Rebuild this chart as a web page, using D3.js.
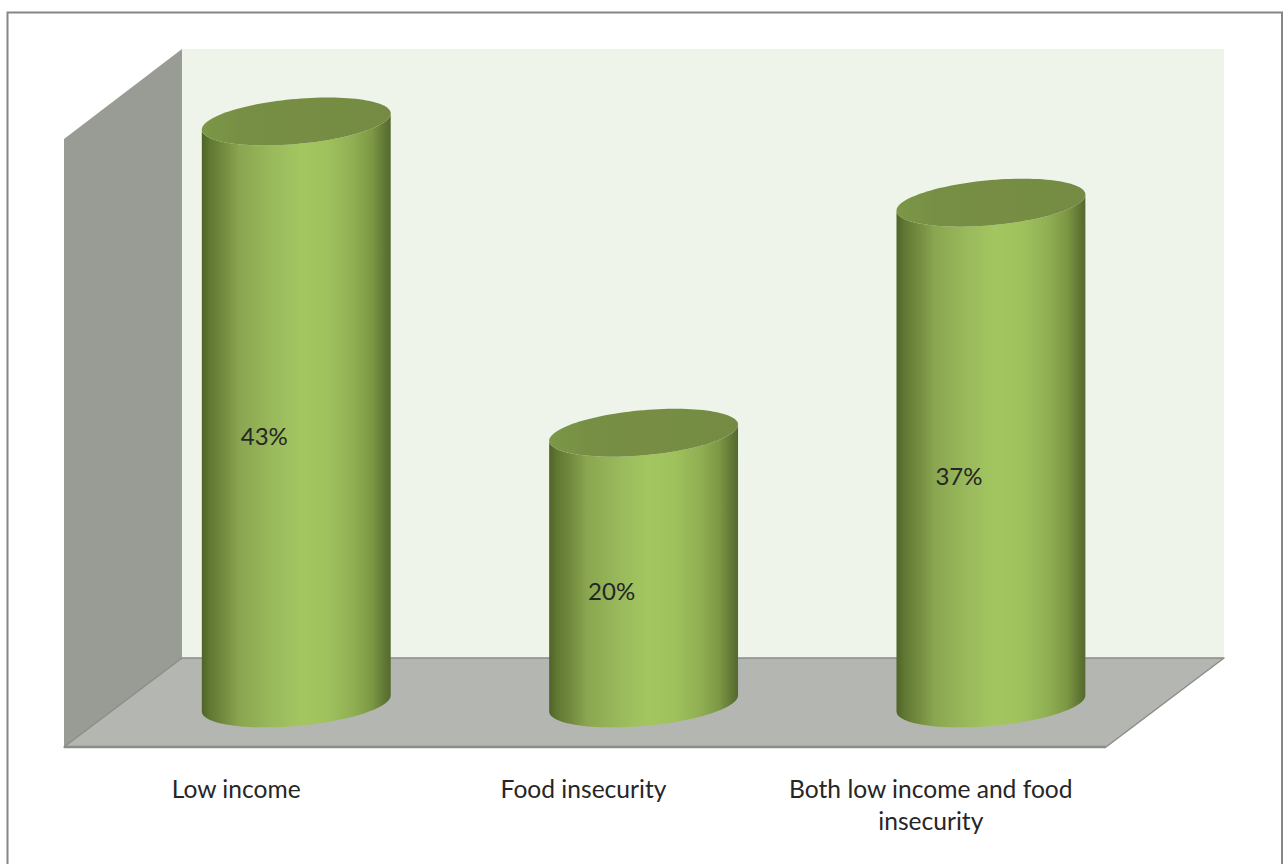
<!DOCTYPE html>
<html>
<head>
<meta charset="utf-8">
<script src="https://cdn.jsdelivr.net/npm/d3@7"></script>
<style>
  html, body { margin: 0; padding: 0; background: #fff; }
  svg { display: block; }
  text { font-family: Lato, "Open Sans", sans-serif; fill: #262626; }
</style>
</head>
<body>
<svg id="chart" width="1288" height="864"></svg>
<script>
const categories = ["Low income", "Food insecurity", "Both low income and food insecurity"];
const shares = [43, 20, 37];
const axisMax = 45;

const svg = d3.select("#chart");

// Box of the 3D plot: front and back edges of the floor, and the wall height
const front = { left: 64, right: 1106, floor: 747 };
const back = { left: 182, right: 1224, floor: 658, top: 49 };
const wallTopFront = 139;

// Cylinders stand halfway between the front and back edges
const midLeft = (front.left + back.left) / 2 - 0.4;
const midRight = (front.right + back.right) / 2 - 0.4;
const midFloor = 703.4;
const y = d3.scaleLinear().domain([0, axisMax]).range([midFloor, midFloor - (back.floor - back.top)]);
const xMid = d3.scaleBand().domain(categories).range([midLeft, midRight]).paddingInner(0.459).paddingOuter(0.2295);
const xFront = d3.scaleBand().domain(categories).range([front.left, front.right]);

// Tilted ellipse of a cylinder cap, sampled as points around its centre
const capRx = 94.8;
const capRy = 22.5;
const capTilt = -5.16 * Math.PI / 180;
const capStart = Math.atan2(-capRy * Math.sin(capTilt), capRx * Math.cos(capTilt));
function capPoint(t, cy) {
  return [
    capRx * Math.cos(t) * Math.cos(capTilt) - capRy * Math.sin(t) * Math.sin(capTilt),
    cy + capRx * Math.cos(t) * Math.sin(capTilt) + capRy * Math.sin(t) * Math.cos(capTilt)
  ];
}
const lowerHalf = d3.range(0, 61).map(i => capStart + Math.PI * i / 60);
const fullTurn = d3.range(0, 121).map(i => capStart + 2 * Math.PI * i / 120);
const outline = d3.line();

const defs = svg.append("defs");
const sideStops = [
  [0, "#4f6329"], [0.04, "#5f7732"], [0.12, "#748c3f"], [0.2, "#8aa650"],
  [0.38, "#9aba5c"], [0.52, "#a3c660"], [0.66, "#a0c25d"], [0.8, "#90af53"],
  [0.9, "#7d9844"], [0.97, "#5f7634"], [1, "#55692d"]
];
const sideGradient = defs.append("linearGradient").attr("id", "cylinderSide");
sideGradient.selectAll("stop").data(sideStops).join("stop")
  .attr("offset", d => d[0]).attr("stop-color", d => d[1]);

const capGradient = defs.append("linearGradient").attr("id", "cylinderCap");
capGradient.selectAll("stop").data([[0, "#7c9747"], [0.2, "#778f44"], [1, "#758b43"]]).join("stop")
  .attr("offset", d => d[0]).attr("stop-color", d => d[1]);

// Plot frame, open along the bottom edge
svg.append("path")
  .attr("d", d3.line()([[7.5, 864], [7.5, 12.5], [1282, 12.5], [1282, 864]]))
  .attr("fill", "none").attr("stroke", "#868686").attr("stroke-width", 2);

// Back wall
svg.append("path")
  .attr("d", d3.line()([[back.left, back.top], [back.right, back.top], [back.right, back.floor], [back.left, back.floor]]) + "Z")
  .attr("fill", "#eef4ea");

// Side wall
svg.append("path")
  .attr("d", d3.line()([[front.left, wallTopFront], [back.left, back.top], [back.left, back.floor], [front.left, front.floor]]) + "Z")
  .attr("fill", "#999b95");

// Floor with its darker outline
svg.append("path")
  .attr("d", d3.line()([[front.left, front.floor], [back.left, back.floor], [back.right, back.floor], [front.right, front.floor]]) + "Z")
  .attr("fill", "#b4b6b1").attr("stroke", "#8b8d88").attr("stroke-width", 1.5).attr("stroke-linejoin", "round");
svg.append("line")
  .attr("x1", front.left).attr("x2", front.right).attr("y1", front.floor).attr("y2", front.floor)
  .attr("stroke", "#8b8d88").attr("stroke-width", 2.5);

const data = categories.map((name, i) => ({ name, value: shares[i] }));
const bars = svg.append("g").selectAll("g").data(data).join("g")
  .attr("transform", d => `translate(${xMid(d.name) + xMid.bandwidth() / 2},0)`);

// Column side: around the front of the base, then back along the front of the cap
bars.append("path")
  .attr("d", d => outline([
    ...lowerHalf.map(t => capPoint(t, y(0))),
    ...lowerHalf.slice().reverse().map(t => capPoint(t, y(d.value)))
  ]) + "Z")
  .attr("fill", "url(#cylinderSide)");

bars.append("path")
  .attr("d", d => outline(fullTurn.map(t => capPoint(t, y(d.value)))) + "Z")
  .attr("fill", "url(#cylinderCap)");

// Value labels sit on the front face of the column, at half its height
bars.append("text")
  .attr("x", -32)
  .attr("y", d => y(d.value / 2) + 24)
  .attr("dy", "0.35em")
  .attr("text-anchor", "middle")
  .attr("font-size", 24)
  .text(d => d.value + "%");

// Category axis with wrapped tick labels
const labelLines = { "Both low income and food insecurity": ["Both low income and food", "insecurity"] };
const axis = svg.append("g")
  .attr("transform", `translate(0,${front.floor})`)
  .call(d3.axisBottom(xFront).tickSize(0).tickPadding(0));
axis.select(".domain").remove();
axis.selectAll("text").remove();
axis.selectAll(".tick").append("text")
  .attr("text-anchor", "middle")
  .attr("font-size", 24.6)
  .selectAll("tspan")
  .data(d => labelLines[d] || [d])
  .join("tspan")
  .attr("x", -1.5)
  .attr("y", (d, i) => 50.5 + i * 32)
  .text(d => d);
</script>
</body>
</html>
